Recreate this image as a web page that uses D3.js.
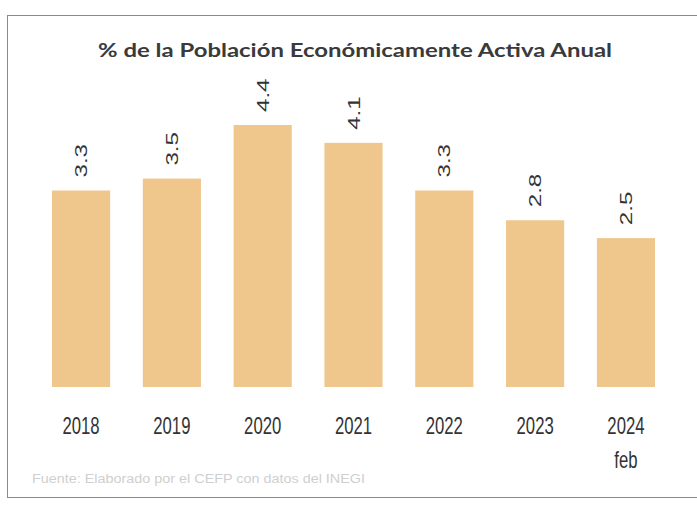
<!DOCTYPE html>
<html><head><meta charset="utf-8">
<script src="https://cdn.jsdelivr.net/npm/d3@7"></script>
<style>body{margin:0;background:#fff}svg{display:block}</style>
</head><body>
<svg id="c" width="697" height="506"></svg>
<script>
const categories = ["2018","2019","2020","2021","2022","2023","2024\nfeb"];
const values = [3.3, 3.5, 4.4, 4.1, 3.3, 2.8, 2.5];
const valueLabels = ["3.3","3.5","4.4","4.1","3.3","2.8","2.5"];
const title = "% de la Población Económicamente Activa Anual";
const source = "Fuente: Elaborado por el CEFP con datos del INEGI";

const svg = d3.select("#c");
svg.append("rect").attr("x",7.5).attr("y",15.5).attr("width",700).attr("height",482)
  .attr("fill","#fff").attr("stroke","#8a8a8a").attr("stroke-width",1);

svg.append("text").attr("x",355).attr("y",57).attr("text-anchor","middle")
  .attr("font-family","'Lato','DejaVu Sans', sans-serif").attr("font-size",19).attr("font-weight","bold")
  .attr("fill","#3a3a3a").attr("textLength",514).attr("lengthAdjust","spacingAndGlyphs").text(title);

const x = d3.scaleBand().domain(categories).range([52, 655]).paddingInner(0.36).paddingOuter(0);
const y = d3.scaleLinear().domain([0, 4.4]).range([387, 125]);
const FONT = "'Liberation Sans',sans-serif";

svg.selectAll("rect.bar").data(values).enter().append("rect").attr("class","bar")
  .attr("x",(d,i)=>x(categories[i])).attr("width",x.bandwidth())
  .attr("y",d=>y(d)).attr("height",d=>y(0)-y(d)).attr("fill","#EFC68B");

svg.selectAll("text.val").data(values).enter().append("text").attr("class","val")
  .attr("transform",(d,i)=>`translate(${x(categories[i])+x.bandwidth()/2+6},${y(d)-13}) scale(0.88,1.27) rotate(-90)`)
  .attr("font-family",FONT).attr("font-size",19)
  .attr("fill","#333").text((d,i)=>valueLabels[i]);

const xa = svg.append("g");
categories.forEach(c=>{
  const lines = c.split("\n");
  lines.forEach((l,i)=>{
    xa.append("text")
      .attr("transform",`translate(${x(c)+x.bandwidth()/2},${434 + i*34}) scale(0.88,1.28)`)
      .attr("text-anchor","middle").attr("font-family",FONT).attr("font-size",19).attr("fill","#333").text(l);
  });
});

svg.append("text").attr("x",32).attr("y",483).attr("font-family",FONT)
  .attr("font-size",12).attr("fill","#cfcfcf").attr("textLength",333).attr("lengthAdjust","spacingAndGlyphs").text(source);
</script>
</body></html>
